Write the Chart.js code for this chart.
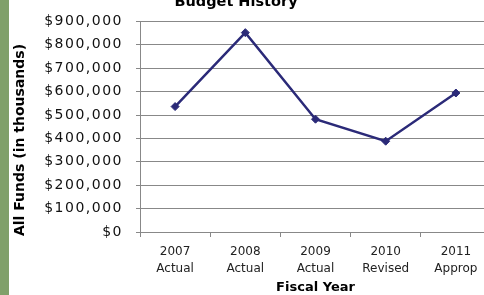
<!DOCTYPE html>
<html>
<head>
<meta charset="utf-8">
<title>Budget History</title>
<script src="https://cdn.jsdelivr.net/npm/chart.js@4/dist/chart.umd.min.js"></script>
<style>
    html, body { margin: 0; padding: 0; background: #fff; overflow: hidden; }
    #wrap { position: relative; width: 484px; height: 295px; overflow: hidden; }
    #wrap canvas { position: absolute; left: 0; top: 0; }
    #sideBar { position: absolute; left: 0; top: 0; width: 9px; height: 295px; background: #80a06a; }
</style>
</head>
<body>
<div id="wrap">
    <canvas id="budgetChart" width="500" height="295"></canvas>
    <div id="sideBar"></div>
</div>
<script>
// Chart data
const chartTitle = 'Budget History';
const yAxisTitle = 'All Funds (in thousands)';
const xAxisTitle = 'Fiscal Year';
const fiscalYears = [
    ['2007', 'Actual'],
    ['2008', 'Actual'],
    ['2009', 'Actual'],
    ['2010', 'Revised'],
    ['2011', 'Approp']
];
const allFunds = [536000, 852000, 482000, 388000, 594000];
const yMin = 0;
const yMax = 900000;
const yStep = 100000;

const lineColor = '#2b2a78';
const gridColor = '#888888';

Chart.defaults.font.family = '"DejaVu Sans", sans-serif';
Chart.defaults.color = '#000';

/**
 * Draws the cut-off chart title and the y axis title,
 * and spreads the y tick labels a little wider
 */
const titlesPlugin = {
    id: 'titles',
    beforeDraw(chart) {
        const yScale = chart.scales.y;
        if (!yScale._spaced) {
            const drawLabels = yScale.drawLabels.bind(yScale);
            yScale.drawLabels = function(area) {
                const c = this.ctx;
                c.save();
                c.letterSpacing = '1.5px';
                drawLabels(area);
                c.restore();
            };
            yScale._spaced = true;
        }
    },
    afterDraw(chart) {
        const ctx = chart.ctx;
        ctx.save();
        ctx.fillStyle = '#000';
        ctx.textAlign = 'center';
        ctx.textBaseline = 'alphabetic';
        ctx.font = 'bold 14.5px "DejaVu Sans"';
        ctx.fillText(chartTitle, 236, 6);

        ctx.translate(20, 140);
        ctx.rotate(-Math.PI / 2);
        ctx.textBaseline = 'middle';
        ctx.font = 'bold 14px "DejaVu Sans"';
        ctx.fillText(yAxisTitle, 0, 0);
        ctx.restore();
    }
};

const ctx = document.getElementById('budgetChart');
new Chart(ctx, {
    type: 'line',
    data: {
        labels: fiscalYears,
        datasets: [{
            label: 'All Funds',
            data: allFunds,
            borderColor: lineColor,
            backgroundColor: lineColor,
            borderWidth: 2.5,
            pointStyle: 'rectRot',
            pointRadius: 4,
            pointBorderWidth: 1,
            pointBackgroundColor: lineColor,
            tension: 0
        }]
    },
    options: {
        responsive: false,
        animation: false,
        layout: {
            padding: { left: 10, top: 17, right: 9, bottom: 0 }
        },
        plugins: {
            legend: { display: false },
            tooltip: { enabled: false },
            title: { display: false }
        },
        scales: {
            x: {
                offset: true,
                grid: {
                    display: true,
                    offset: true,
                    drawOnChartArea: false,
                    drawTicks: true,
                    tickLength: 5,
                    color: gridColor
                },
                border: { display: true, color: gridColor },
                ticks: {
                    color: '#222',
                    padding: 6,
                    maxRotation: 0,
                    font: { size: 12, lineHeight: 1.42 }
                },
                title: {
                    display: true,
                    text: xAxisTitle,
                    color: '#000',
                    font: { size: 13, weight: 'bold' },
                    padding: { top: 0, bottom: 0 }
                },
                afterFit(scale) {
                    scale.height = 63;
                }
            },
            y: {
                min: yMin,
                max: yMax,
                grid: {
                    color: gridColor,
                    tickLength: 4,
                    drawTicks: true
                },
                border: { display: true, color: gridColor },
                ticks: {
                    stepSize: yStep,
                    color: '#111',
                    padding: 13,
                    font: { size: 14 },
                    callback: function(value) {
                        return '$' + Number(value).toLocaleString('en-US');
                    }
                },
                afterFit(scale) {
                    scale.width = 130;
                }
            }
        }
    },
    plugins: [titlesPlugin]
});
</script>
</body>
</html>
